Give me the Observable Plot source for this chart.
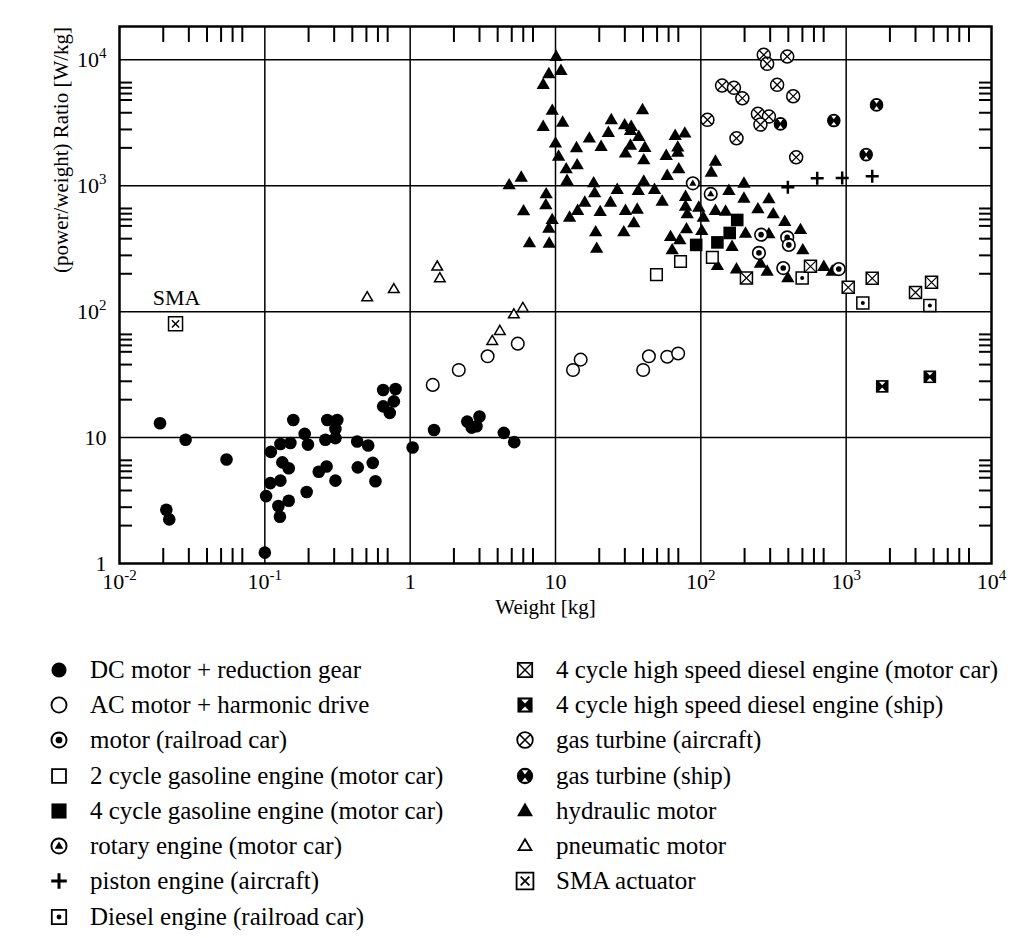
<!DOCTYPE html>
<html><head><meta charset="utf-8">
<script src="https://cdn.jsdelivr.net/npm/d3@7"></script>
<script src="https://cdn.jsdelivr.net/npm/@observablehq/plot@0.6"></script>
<style>
body{margin:0;background:#fff;font-family:"Liberation Serif","Times New Roman",serif;color:#000;}
#chart svg{display:block;}
#legend{position:relative;height:308px;}
.col{position:absolute;top:22px;}
.row{display:flex;align-items:center;height:35.3px;font-size:25px;white-space:nowrap;}
.row svg{flex:none;display:block;}
</style></head><body>
<div id="chart"></div><div id="legend"></div>
<script>
// ---------------- data (weight [kg], power/weight [W/kg]) ----------------
const dcMotor = [[0.019,13],[0.0285,9.6],[0.0545,6.7],[0.021,2.67],[0.022,2.24],[0.1,1.22],
 [0.11,7.7],[0.128,8.9],[0.15,9.05],[0.157,13.8],[0.188,10.7],[0.198,8.8],
 [0.132,6.35],[0.146,5.7],[0.109,4.35],[0.128,4.55],[0.102,3.43],[0.124,2.86],
 [0.146,3.15],[0.127,2.35],[0.194,3.7],[0.235,5.35],[0.266,5.9],[0.306,4.55],
 [0.269,13.8],[0.315,13.8],[0.306,11.7],[0.261,9.6],[0.306,9.9],[0.432,9.3],
 [0.514,8.65],[0.436,5.8],[0.553,6.3],[0.577,4.5],[0.652,23.9],[0.793,24.3],
 [0.652,17.7],[0.772,19.4],[0.724,15.7],[1.04,8.35],[1.46,11.5],[2.47,13.4],
 [2.86,12.3],[3.0,14.7],[2.65,12.0],[4.41,10.9],[5.2,9.2]];
const acMotor = [[1.43,26.2],[2.16,34.4],[3.41,44.2],[5.5,55.7],[13.2,34.4],[14.9,41.6],
 [40.1,34.4],[43.9,44.2],[58.7,43.9],[69.8,46.6]];
const motorRail = [[260,409],[393,389],[403,339],[251,293],[369,222],[890,218]];
const gasoline2 = [[49.5,197],[72.5,250],[120,270]];
const gasoline4 = [[92.9,339],[130,355],[178,535],[158,422]];
const rotary = [[88.1,1046],[117,861]];
const piston = [[397,972],[632,1146],[939,1154],[1511,1189]];
const dieselRail = [[498,185],[1302,117],[3765,112]];
const diesel4Car = [[206,185],[568,229],[1033,156],[1511,184],[3000,142],[3867,171]];
const diesel4Ship = [[1770,25.5],[3765,30.4]];
const gasTurbAir = [[271,10960],[286,9295],[393,10620],[140,6250],[169,5990],[193,4954],[335,6330],
 [432,5139],[247,3723],[294,3544],[257,3061],[176,2383],[453,1683],[111,3337]];
const gasTurbShip = [[353,3100],[822,3294],[1618,4389],[1373,1768]];
const hydraulic = [[10.1,10620],[9.0,7740],[10.9,8220],[8.23,6360],[9.5,3960],[8.23,2950],[11.2,3190],
 [10.0,2175],[10.5,1714],[11.85,1361],[12.0,1099],[13.95,2000],[14.1,1464],[17.1,2383],[20.6,2047],
 [24.2,3337],[23.1,2645],[29.9,3044],[33.2,2951],[32.8,2743],[37.4,2458],[39.7,4006],[32.8,2096],
 [41.2,2010],[30.3,1811],[40.5,1605],[57.8,1736],[66.6,2503],[77.6,2611],[69.4,2021],[69.4,1844],
 [70.5,1361],[58.7,1204],[4.8,1016],[5.81,1167],[8.63,861],[8.58,704],[6.03,631],[9.49,538],
 [9.0,459],[6.62,351],[9.05,349],[18.3,1053],[18.6,877],[15.9,739],[14.2,635],[12.5,561],[20.3,623],
 [23.9,739],[26.6,932],[18.9,430],[19.2,318],[30.3,635],[36.5,650],[34.6,507],[29.5,430],[37.1,915],
 [40.5,1085],[48.0,932],[54.2,752],[78.5,820],[78.5,687],[80.6,597],[96.8,674],[104,561],[79.7,454],
 [101.5,440],[61.9,394],[71.7,371],[63.5,309],[126,1564],[118,1279],[126,635],[130,232],
 [198,1046],[156,915],[198,795],[294,786],[148,627],[247,655],[315,597],[378,519],[203,419],
 [294,414],[485,448],[164,329],[503,309],[176,218],[286,209],[257,242],[397,185],[702,228],[802,209]];
const pneumatic = [[0.506,130],[0.772,151],[1.535,228],[1.6,184],[3.67,58.5],[4.14,70.3],[5.17,95.2],[5.96,107]];
const smaActuator = [[0.0243,80]];
const smaLabel = ["SMA"];

// ---------------- axes ----------------
const xTickValues = [0.01,0.1,1,10,100,1000,10000];
const xTickLabels = ["10^-2","10^-1","1","10","10^2","10^3","10^4"];
const yTickValues = [1,10,100,1000,10000];
const yTickLabels = ["1","10","10^2","10^3","10^4"];
const xGridValues = [0.1,1,10,100,1000];
const yGridValues = [10,100,1000,10000];
const xMinorMult = [2,3,4,5,6,7];
const yMinorMult = [2,2.8,3.8,4.8,5.4,6,6.6];
const xDecades = [0.01,0.1,1,10,100,1000];
const yDecades = [1,10,100,1000];
const xMinor = xDecades.flatMap(d => xMinorMult.map(m => m*d));
const yMinor = yDecades.flatMap(d => yMinorMult.map(m => m*d));
const xLabel = "Weight [kg]";
const yLabel = "(power/weight) Ratio [W/kg]";

// ---------------- symbols ----------------
const sym = fn => ({draw(c){fn(c);}});
const S = {
  circle: r => sym(c => {c.moveTo(r,0); c.arc(0,0,r,0,2*Math.PI); c.closePath();}),
  square: h => sym(c => {c.rect(-h,-h,2*h,2*h);}),
  tri: s => sym(c => {c.moveTo(0,-s); c.lineTo(s*0.95,s*0.62); c.lineTo(-s*0.95,s*0.62); c.closePath();}),
  xLines: d => sym(c => {c.moveTo(-d,-d); c.lineTo(d,d); c.moveTo(d,-d); c.lineTo(-d,d);}),
  plus: h => sym(c => {c.moveTo(-h,0); c.lineTo(h,0); c.moveTo(0,-h); c.lineTo(0,h);}),
  wedges: (w, t, b) => sym(c => {c.moveTo(0,-b); c.lineTo(-w,-t); c.lineTo(w,-t); c.closePath();
                                  c.moveTo(0,b); c.lineTo(-w,t); c.lineTo(w,t); c.closePath();})
};
const W = "white", K = "black";
const series = [
  {name:"DC motor + reduction gear", data:dcMotor, col:0, layers:[{s:S.circle(6.3), fill:K}]},
  {name:"AC motor + harmonic drive", data:acMotor, col:0, layers:[{s:S.circle(6.3), fill:W, stroke:K, sw:1.5}]},
  {name:"motor (railroad car)", data:motorRail, col:0, layers:[{s:S.circle(6.3), fill:W, stroke:K, sw:1.6},{s:S.circle(2.8), fill:K}]},
  {name:"2 cycle gasoline engine (motor car)", data:gasoline2, col:0, layers:[{s:S.square(5.8), fill:W, stroke:K, sw:1.5}]},
  {name:"4 cycle gasoline engine (motor car)", data:gasoline4, col:0, layers:[{s:S.square(6.3), fill:K}]},
  {name:"rotary engine (motor car)", data:rotary, col:0, layers:[{s:S.circle(6.3), fill:W, stroke:K, sw:1.6},{s:S.tri(3.8), fill:K}]},
  {name:"piston engine (aircraft)", data:piston, col:0, layers:[{s:S.plus(6.5), fill:"none", stroke:K, sw:2.5}]},
  {name:"Diesel engine (railroad car)", data:dieselRail, col:0, layers:[{s:S.square(6), fill:W, stroke:K, sw:1.5},{s:S.circle(2), fill:K}]},
  {name:"4 cycle high speed diesel engine (motor car)", data:diesel4Car, col:1, layers:[{s:S.square(6), fill:W, stroke:K, sw:1.5},{s:S.xLines(6), fill:"none", stroke:K, sw:1.2}]},
  {name:"4 cycle high speed diesel engine (ship)", data:diesel4Ship, col:1, layers:[{s:S.square(6.3), fill:K},{s:S.wedges(3.2,4.6,1.2), fill:W}]},
  {name:"gas turbine (aircraft)", data:gasTurbAir, col:1, layers:[{s:S.circle(6.5), fill:W, stroke:K, sw:1.5},{s:S.xLines(4.6), fill:"none", stroke:K, sw:1.3}]},
  {name:"gas turbine (ship)", data:gasTurbShip, col:1, layers:[{s:S.circle(6.8), fill:K},{s:S.wedges(2.6,4.8,1.2), fill:W}]},
  {name:"hydraulic motor", data:hydraulic, col:1, layers:[{s:S.tri(7), fill:K}]},
  {name:"pneumatic motor", data:pneumatic, col:1, layers:[{s:S.tri(5.6), fill:W, stroke:K, sw:1.5}]},
  {name:"SMA actuator", data:smaActuator, col:1, layers:[{s:S.square(7), fill:W, stroke:K, sw:1.5},{s:S.xLines(3.6), fill:"none", stroke:K, sw:1.5}]}
];
const drawOrder = [12, ...series.map((_, i) => i).filter(i => i !== 12)];
const dotMarks = drawOrder.flatMap(i => series[i].layers.map(L =>
  Plot.dot(series[i].data, {x: d => d[0], y: d => d[1], symbol: L.s, r: 5,
    fill: L.fill, stroke: L.stroke || "none", strokeWidth: L.sw || 1})));

const fmt = (vals, labs) => d => { const i = vals.indexOf(d); return i < 0 ? "" : labs[i]; };

const chart = Plot.plot({
  width: 1025, height: 630,
  marginLeft: 119, marginRight: 34, marginTop: 26, marginBottom: 67,
  style: {fontFamily: '"Liberation Serif","Times New Roman",serif', fontSize: "22px", background: "white", color: "black"},
  x: {type: "log", domain: [0.01, 10000]},
  y: {type: "log", domain: [1, 18400]},
  marks: [
    Plot.ruleX(xGridValues, {stroke: K, strokeWidth: 1.5}),
    Plot.ruleY(yGridValues, {stroke: K, strokeWidth: 1.5}),
    Plot.axisX(xMinor, {anchor: "top", tickSize: -15, strokeWidth: 2, tickFormat: () => "", label: null}),
    Plot.axisX(xMinor, {anchor: "bottom", tickSize: -15, strokeWidth: 2, tickFormat: () => "", label: null}),
    Plot.axisY(yMinor, {anchor: "left", tickSize: -13, strokeWidth: 2, tickFormat: () => "", label: null}),
    Plot.axisY(yMinor, {anchor: "right", tickSize: -13, strokeWidth: 2, tickFormat: () => "", label: null}),
    Plot.axisX(xTickValues, {anchor: "bottom", tickSize: 0, tickPadding: 10, tickFormat: fmt(xTickValues, xTickLabels), label: null, fontSize: 22}),
    Plot.axisY(yTickValues, {anchor: "left", tickSize: 0, tickPadding: 13, tickFormat: fmt(yTickValues, yTickLabels), label: null, fontSize: 22}),
    Plot.frame({stroke: K, strokeWidth: 2.5}),
    ...dotMarks,
    Plot.text(smaActuator, {x: d => d[0], y: d => d[1], text: (d, i) => smaLabel[i], dy: -26, dx: 1, fontSize: 22}),
    Plot.text([xLabel], {text: d => d, frameAnchor: "bottom", dx: -10, dy: 50, fontSize: 21}),
    Plot.text([yLabel], {text: d => d, frameAnchor: "left", rotate: -90, dx: -58, dy: -22, fontSize: 21})
  ]
});
// superscripts
chart.querySelectorAll("text").forEach(t => {
  const s = t.textContent;
  if (s.includes("^") && t.children.length === 0) {
    const [b, e] = s.split("^");
    t.textContent = b;
    const ts = document.createElementNS("http://www.w3.org/2000/svg", "tspan");
    ts.setAttribute("dy", "-9");
    ts.setAttribute("font-size", "15px");
    ts.textContent = e;
    t.appendChild(ts);
  }
});
document.getElementById("chart").appendChild(chart);

// ---------------- legend ----------------
const NS = "http://www.w3.org/2000/svg";
const legend = document.getElementById("legend");
const colPos = [{left: 44, gap: 16}, {left: 510, gap: 16}];
[0, 1].forEach(ci => {
  const col = document.createElement("div");
  col.className = "col";
  col.style.left = colPos[ci].left + "px";
  series.filter(s => s.col === ci).forEach(s => {
    const row = document.createElement("div");
    row.className = "row";
    const sv = document.createElementNS(NS, "svg");
    sv.setAttribute("width", 30); sv.setAttribute("height", 30);
    sv.style.marginRight = colPos[ci].gap + "px";
    const g = document.createElementNS(NS, "g");
    g.setAttribute("transform", "translate(15,15) scale(1.2)");
    s.layers.forEach(L => {
      const p = d3.path(); L.s.draw(p);
      const path = document.createElementNS(NS, "path");
      path.setAttribute("d", p.toString());
      path.setAttribute("fill", L.fill);
      path.setAttribute("stroke", L.stroke || "none");
      path.setAttribute("stroke-width", L.sw || 1);
      g.appendChild(path);
    });
    sv.appendChild(g);
    const span = document.createElement("span");
    span.textContent = s.name;
    row.appendChild(sv); row.appendChild(span);
    col.appendChild(row);
  });
  legend.appendChild(col);
});
</script></body></html>
